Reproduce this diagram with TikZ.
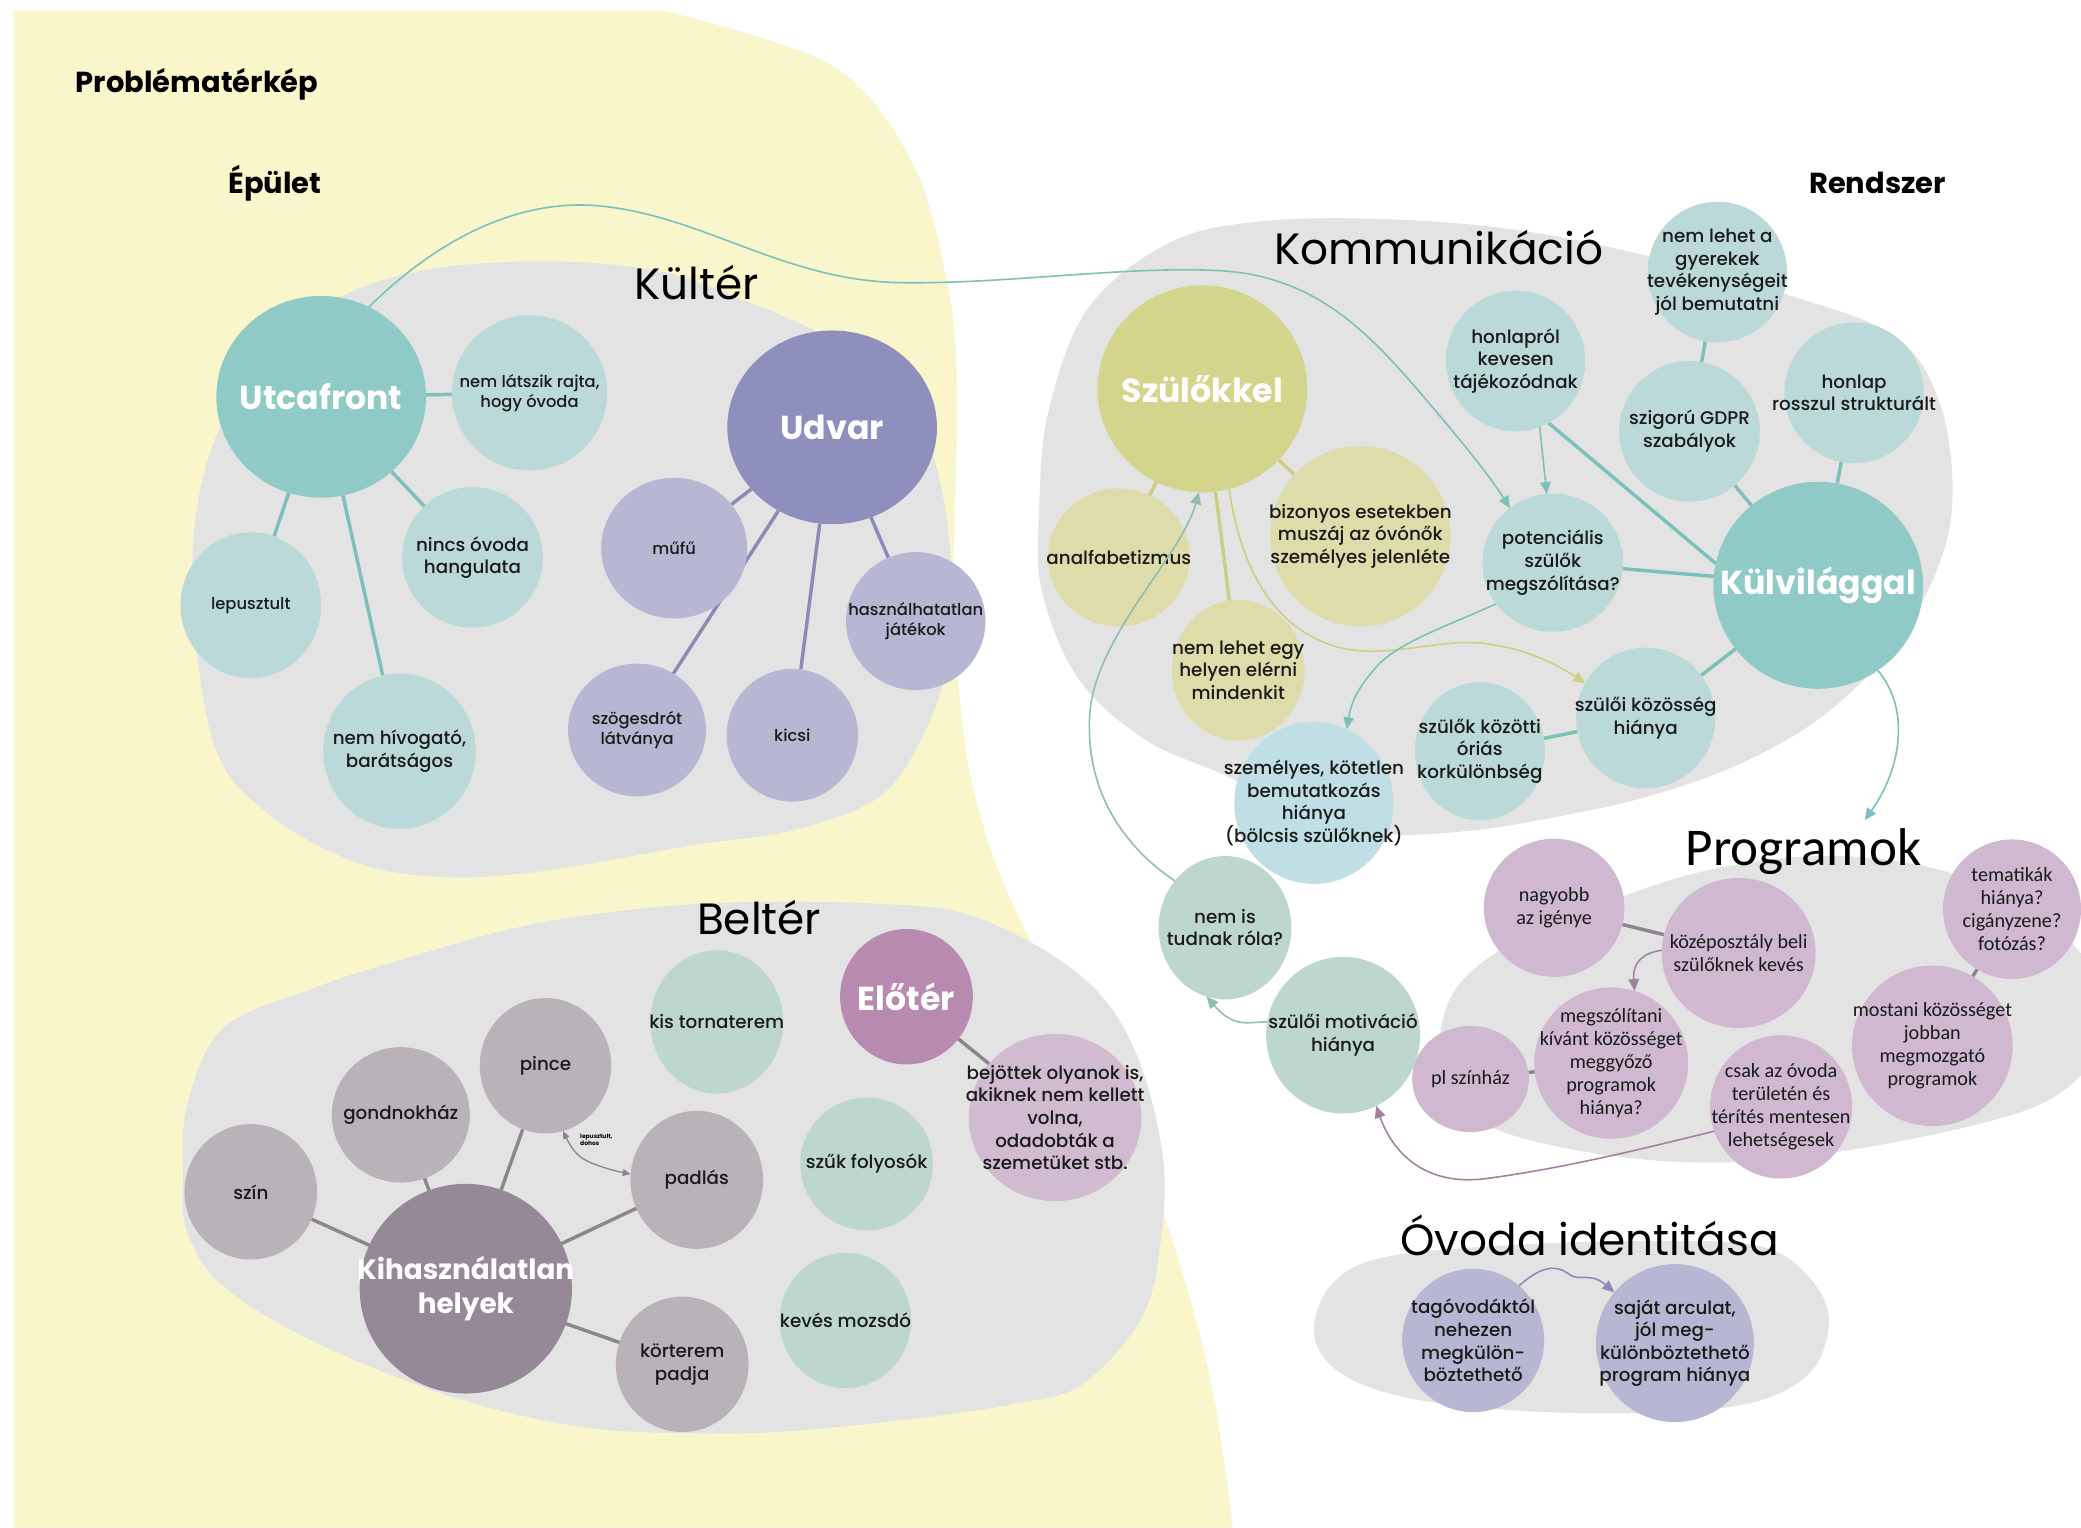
\documentclass[tikz,border=0pt]{standalone}
\usepackage{fontspec}
\setmainfont{Poppins}
\IfFontExistsTF{Poppins Medium}{\newfontfamily\medfont{Poppins Medium}}{\newfontfamily\medfont{Poppins}[FakeBold=0.5]}
\newfontfamily\calfont{Carlito}
\usetikzlibrary{shapes.geometric,arrows.meta}
\pgfdeclarelayer{back}
\pgfdeclarelayer{lns}
\pgfsetlayers{back,lns,main}
\definecolor{cYel}{HTML}{FAF6CB}
\definecolor{cBlob}{HTML}{E4E3E3}
\definecolor{cTeal}{HTML}{8FCAC7}
\definecolor{cLtTeal}{HTML}{BCD9D9}
\definecolor{cPur}{HTML}{8E8FBD}
\definecolor{cLtPur}{HTML}{B8B7D3}
\definecolor{cOli}{HTML}{D4D58D}
\definecolor{cLtOli}{HTML}{DDDCAA}
\definecolor{cLtBlue}{HTML}{BFDFE4}
\definecolor{cMint}{HTML}{BDD7CE}
\definecolor{cMauve}{HTML}{B98AB0}
\definecolor{cLtMauve}{HTML}{D0BBD1}
\definecolor{cLil}{HTML}{CFB8D0}
\definecolor{cGM}{HTML}{968997}
\definecolor{cLtGM}{HTML}{B9B2B9}
\definecolor{cTxt}{HTML}{1A1A1A}
\definecolor{lTeal}{HTML}{7CC0BC}
\definecolor{lPur}{HTML}{8B8BB8}
\definecolor{lOli}{HTML}{CDCE86}
\definecolor{lGray}{HTML}{8E8490}
\definecolor{lMint}{HTML}{8FBDB3}
\definecolor{lLil}{HTML}{A282A2}
\newcommand\mkbub[8]{%
  \node[bub,fill=#2,minimum width=#5,minimum height=#6] (#1) at (#3,#4) {};
  \node[#7] (#1T) at (#1.center) {#8};}
\begin{document}
\begin{tikzpicture}[x=1pt,y=-1pt,
  bub/.style={ellipse,inner sep=0pt,outer sep=0pt,draw=none},
  txt/.style={font=\medfont\fontsize{13.8}{17}\selectfont,align=center,text=cTxt,inner sep=0pt},
  txts/.style={txt,font=\medfont\fontsize{12.3}{15.2}\selectfont},
  txtc/.style={txt,font=\calfont\fontsize{15.2}{17.5}\selectfont},
  txtb/.style={font=\bfseries\fontsize{25}{29}\selectfont,align=center,text=white,inner sep=0pt},
  txtbb/.style={txtb,font=\bfseries\fontsize{21}{25}\selectfont},
  head/.style={font=\fontsize{33}{38}\selectfont,text=black,anchor=base west,inner sep=0pt},
  ttl/.style={font=\bfseries\fontsize{21.8}{24}\selectfont,text=black,anchor=base west,inner sep=0pt},
  cline/.style={line width=2.6pt},
  carrow/.style={line width=1.2pt,-{Triangle[length=9pt,width=8pt]}},
]
\useasboundingbox (0,0) rectangle (1568,1151);
\begin{pgfonlayer}{back}
\fill[white] (0,0) rectangle (1568,1151);
\fill[cYel] (10,1151) -- (10,8) -- plot[smooth,tension=0.55] coordinates {(500,8) (628,50) (689,126) (716,226) (721,301) (719,400) (718,464) (729,573) (751,653) (784,724) (819,789) (859,870) (889,952) (914,1049) (929,1151)} -- cycle;
% Kulter blob
\fill[cBlob] plot[smooth cycle,tension=0.6] coordinates {(145,440) (157,345) (200,265) (260,222) (330,202) (420,197) (500,205) (560,226) (620,252) (675,285) (705,350) (717,430) (714,500) (695,555) (663,600) (600,625) (527,636) (471,646) (404,657) (336,661) (269,650) (202,613) (161,560)};
% Belter blob
\fill[cBlob] plot[smooth cycle,tension=0.6] coordinates {(138,887) (141,833) (168,775) (235,745) (303,723) (404,696) (527,681) (663,681) (738,692) (814,735) (854,789) (876,870) (874,940) (859,995) (814,1044) (763,1058) (696,1068) (600,1078) (527,1080) (437,1075) (336,1051) (235,1010) (168,969) (141,928)};
% Kommunikacio blob
\fill[cBlob] plot[smooth cycle,tension=0.6] coordinates {(783,384) (790,310) (820,232) (881,183) (948,167) (1040,165) (1141,173) (1242,193) (1343,221) (1427,253) (1462,305) (1471,380) (1455,440) (1420,495) (1370,542) (1310,576) (1242,600) (1175,615) (1107,626) (1040,628) (975,612) (925,585) (864,558) (813,512) (785,445)};
% Programok blob
\fill[cBlob] plot[smooth cycle,tension=0.6] coordinates {(1084,790) (1097,745) (1140,710) (1210,680) (1290,655) (1377,645) (1460,655) (1530,685) (1575,730) (1580,790) (1545,828) (1478,850) (1377,869) (1292,876) (1208,870) (1130,852) (1092,825)};
% Ovoda blob
\fill[cBlob] plot[smooth cycle,tension=0.6] coordinates {(990,1000) (1005,966) (1045,947) (1141,938) (1250,935) (1326,939) (1363,962) (1378,996) (1362,1036) (1310,1059) (1208,1065) (1107,1060) (1040,1048) (1002,1028)};
\end{pgfonlayer}

% titles
\node[ttl] (t1) at (57,70) {Problématérkép};
\node[ttl] (t2) at (172,146) {Épület};
\node[ttl] (t3) at (1363,146) {Rendszer};
\node[head] (h1) at (478,226) {Kültér};
\node[head] (h2) at (960,199) {Kommunikáció};
\node[head] (h3) at (525,704) {Beltér};
\node[head,font=\calfont\fontsize{40}{44}\selectfont] (h4) at (1270,652) {Programok};
\node[head] (h5) at (1055,946) {Óvoda identitása};

% Kulter
\mkbub{utc}{cTeal}{242}{299}{158}{152}{txtb}{Utcafront}
\mkbub{nla}{cLtTeal}{399}{296}{117}{117}{txts}{nem látszik rajta,\\hogy óvoda}
\mkbub{nob}{cLtTeal}{356}{420}{106}{106}{txt}{nincs óvoda\\hangulata}
\mkbub{lep}{cLtTeal}{189}{456}{106}{110}{txts}{lepusztult}
\mkbub{nhb}{cLtTeal}{301}{566}{115}{117}{txt}{nem hívogató,\\barátságos}
\mkbub{udv}{cPur}{627}{322}{158}{146}{txtb}{Udvar}
\mkbub{muf}{cLtPur}{508}{413}{110}{106}{txts}{műfű}
\mkbub{haj}{cLtPur}{690}{468}{105}{104}{txts}{használhatatlan\\játékok}
\mkbub{kic}{cLtPur}{597}{554}{99}{100}{txts}{kicsi}
\mkbub{szl}{cLtPur}{480}{550}{104}{100}{txts}{szögesdrót\\látványa}

% Kommunikacio
\mkbub{sz}{cOli}{906}{293}{158}{156}{txtb}{Szülőkkel}
\mkbub{ana}{cLtOli}{843}{420}{107}{104}{txt}{analfabetizmus}
\mkbub{biz}{cLtOli}{1025}{404}{136}{136}{txt}{bizonyos esetekben\\muszáj az óvónők\\személyes jelenléte}
\mkbub{nle}{cLtOli}{933}{505}{100}{106}{txt}{nem lehet egy\\helyen elérni\\mindenkit}
\mkbub{gyt}{cLtTeal}{1294}{205}{105}{106}{txt}{nem lehet a\\gyerekek\\tevékenységeit\\jól bemutatni}
\mkbub{hon}{cLtTeal}{1142}{272}{105}{106}{txt}{honlapról\\kevesen\\tájékozódnak}
\mkbub{gdp}{cLtTeal}{1273}{325}{106}{106}{txt}{szigorú GDPR\\szabályok}
\mkbub{hrs}{cLtTeal}{1397}{296}{105}{106}{txt}{honlap\\rosszul strukturált}
\mkbub{kul}{cTeal}{1370}{441}{158}{156}{txtb}{Külvilággal}
\mkbub{pot}{cLtTeal}{1170}{424}{106}{104}{txt}{potenciális\\szülők\\megszólítása?}
\mkbub{szk}{cLtTeal}{1240}{541}{105}{106}{txt}{szülői közösség\\hiánya}
\mkbub{kor}{cLtTeal}{1115}{566}{98}{104}{txt}{szülők közötti\\óriás\\korkülönbség}
\mkbub{sze}{cLtBlue}{990}{605}{120}{122}{txt}{személyes, kötetlen\\bemutatkozás\\hiánya\\(bölcsis szülőknek)}
\mkbub{nem}{cMint}{923}{699}{100}{108}{txt}{nem is\\tudnak róla?}
\mkbub{mot}{cMint}{1012}{780}{116}{118}{txt}{szülői motiváció\\hiánya}

% Programok
\mkbub{nag}{cLil}{1171}{684}{106}{104}{txtc}{nagyobb\\az igénye}
\mkbub{koz}{cLil}{1310}{718}{116}{113}{txtc}{középosztály beli\\szülőknek kevés}
\mkbub{tem}{cLil}{1516}{685}{104}{105}{txtc}{tematikák\\hiánya?\\cigányzene?\\fotózás?}
\mkbub{mos}{cLil}{1456}{788}{121}{121}{txtc}{mostani közösséget\\jobban\\megmozgató\\programok}
\mkbub{meg}{cLil}{1214}{801}{116}{114}{txtc}{megszólítani\\kívánt közösséget\\meggyőző\\programok\\hiánya?}
\mkbub{pls}{cLil}{1108}{813}{88}{80}{txtc}{pl színház}
\mkbub{csk}{cLil}{1342}{834}{107}{108}{txtc}{csak az óvoda\\területén és\\térítés mentesen\\lehetségesek}

% Ovoda identitasa
\mkbub{tag}{cLtPur}{1110}{1010}{107}{108}{txt}{tagóvodáktól\\nehezen\\megkülön-\\böztethető}
\mkbub{saj}{cLtPur}{1262}{1012}{119}{119}{txt}{saját arculat,\\jól meg-\\különböztethető\\program hiánya}

% Belter
\mkbub{elo}{cMauve}{683}{751}{100}{102}{txtb}{Előtér}
\mkbub{bej}{cLtMauve}{795}{842}{130}{126}{txt}{bejöttek olyanok is,\\akiknek nem kellett\\volna,\\odadobták a\\szemetüket stb.}
\mkbub{kis}{cMint}{540}{770}{100}{108}{txt}{kis tornaterem}
\mkbub{szf}{cMint}{653}{877}{100}{100}{txt}{szűk folyosók}
\mkbub{kev}{cMint}{637}{995}{99}{102}{txt}{kevés mozsdó}
\mkbub{kih}{cGM}{351}{971}{160}{158}{txtbb}{Kihasználatlan\\helyek}
\mkbub{szn}{cLtGM}{189}{898}{100}{102}{txt}{szín}
\mkbub{gon}{cLtGM}{302}{840}{104}{102}{txt}{gondnokház}
\mkbub{pin}{cLtGM}{411}{803}{99}{102}{txt}{pince}
\mkbub{pad}{cLtGM}{525}{889}{100}{104}{txt}{padlás}
\mkbub{kot}{cLtGM}{514}{1028}{100}{102}{txt}{körterem\\padja}

% connecting lines
\begin{pgfonlayer}{lns}
\draw[cline,lTeal] (utc) -- (nla);
\draw[cline,lTeal] (utc) -- (nob);
\draw[cline,lTeal] (utc) -- (lep);
\draw[cline,lTeal] (utc) -- (nhb);
\draw[cline,lPur] (udv) -- (muf);
\draw[cline,lPur] (udv) -- (szl);
\draw[cline,lPur] (udv) -- (kic);
\draw[cline,lPur] (udv) -- (haj);
\draw[cline,lOli] (sz) -- (ana);
\draw[cline,lOli] (sz) -- (nle);
\draw[cline,lOli] (sz) -- (biz);
\draw[cline,lTeal] (hon.-62) -- (kul.168);
\draw[cline,lTeal] (kul) -- (gdp);
\draw[cline,lTeal] (kul) -- (hrs);
\draw[cline,lTeal] (kul) -- (pot);
\draw[cline,lTeal] (kul) -- (szk);
\draw[cline,lTeal] (gdp) -- (gyt);
\draw[cline,lTeal] (szk) -- (kor);
\draw[cline,lGray] (nag) -- (koz);
\draw[cline,lGray] (tem) -- (mos);
\draw[cline,lGray] (pls) -- (meg);
\draw[cline,lGray] (kih) -- (szn);
\draw[cline,lGray] (kih) -- (gon);
\draw[cline,lGray] (kih) -- (pin);
\draw[cline,lGray] (kih) -- (pad);
\draw[cline,lGray] (kih) -- (kot);
\draw[cline,lGray] (elo) -- (bej);
\end{pgfonlayer}

% arrows
\draw[carrow,lTeal] (utc.62) .. controls (330,180) and (390,150) .. (450,155)
  .. controls (530,162) and (590,212) .. (680,213)
  .. controls (760,214) and (850,200) .. (920,204)
  .. controls (990,208) and (1030,250) .. (1065,290)
  .. controls (1095,325) and (1120,355) .. (pot.128);
\draw[carrow,lTeal] (hon.-70) -- (pot.95);
\draw[carrow,lOli] (sz.-75) .. controls (935,430) and (960,470) .. (1000,485)
  .. controls (1040,500) and (1080,480) .. (1120,485)
  .. controls (1150,489) and (1172,500) .. (szk.150);
\draw[carrow,lTeal] (pot.-144) .. controls (1090,472) and (1050,485) .. (1035,505)
  .. controls (1022,520) and (1018,530) .. (sze.66);
\draw[carrow,lMint] (nem.137) .. controls (850,640) and (818,600) .. (821,540)
  .. controls (824,480) and (890,420) .. (sz.-92);
\draw[carrow,lMint] (mot.170) .. controls (940,770) and (930,775) .. (nem.-105);
\draw[carrow,lLil] (csk.200) .. controls (1240,865) and (1180,880) .. (1120,888)
  .. controls (1075,894) and (1050,870) .. (mot.-65);
\coordinate (progarr) at (1405,618);
\draw[carrow,lTeal] (kul.-55) .. controls (1440,535) and (1432,580) .. (progarr);
\draw[carrow,lLil] (koz.178) .. controls (1238,718) and (1230,725) .. (meg.72);
\draw[carrow,lPur] (tag.50) .. controls (1160,955) and (1172,952) .. (1182,960)
  .. controls (1190,966) and (1198,958) .. (saj.140);
\draw[line width=1pt,lGray,{Triangle[length=6pt,width=5pt]}-{Triangle[length=6pt,width=5pt]}]
  (pin.-75) .. controls (432,868) and (436,872) .. (445,876)
  .. controls (455,880) and (462,882) .. (pad.175);
\node[font=\bfseries\fontsize{4.5}{5}\selectfont,align=left,anchor=west,inner sep=0pt] (lbl) at (437,859) {lepusztult,\\dohos};
\end{tikzpicture}
\end{document}
